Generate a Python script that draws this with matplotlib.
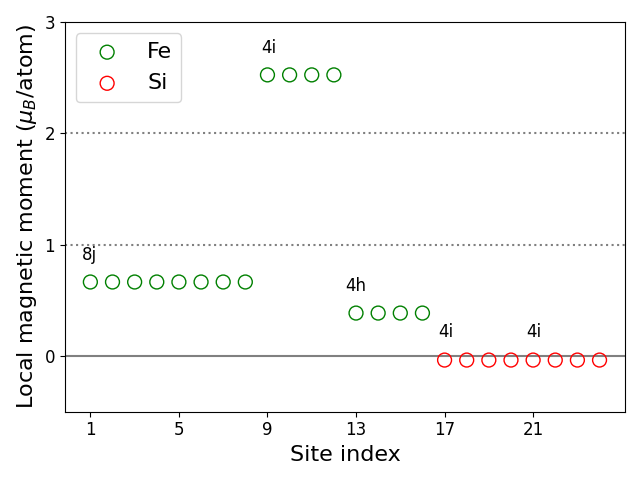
import matplotlib
matplotlib.use("Agg")
import matplotlib.pyplot as plt
import numpy as np

fe_sites = [1, 2, 3, 4, 5, 6, 7, 8, 9, 10, 11, 12, 13, 14, 15, 16]
fe_moments = [0.665]*8 + [2.525]*4 + [0.386]*4
si_sites = [17, 18, 19, 20, 21, 22, 23, 24]
si_moments = [-0.036]*8
labels = ["8j", "4i", "4h", "4i", "4i"]
label_x = [0.6, 8.7, 12.5, 16.7, 20.7]
label_y = [0.86, 2.72, 0.58, 0.17, 0.17]
xticks = [1, 5, 9, 13, 17, 21]

fig, ax = plt.subplots(figsize=(6.4, 4.8), dpi=100)
ax.axhline(0, color="gray", lw=1.5, zorder=1)
ax.axhline(1, color="gray", ls=":", lw=1.5, zorder=1)
ax.axhline(2, color="gray", ls=":", lw=1.5, zorder=1)
ax.scatter(fe_sites, fe_moments, s=100, facecolors="none", edgecolors="green", label="Fe", zorder=2)
ax.scatter(si_sites, si_moments, s=100, facecolors="none", edgecolors="red", label="Si", zorder=2)
for t, x, y in zip(labels, label_x, label_y):
    ax.text(x, y, t, fontsize=12)
ax.set_xlim(-0.15, 25.15)
ax.set_ylim(-0.5, 3)
ax.set_xticks(xticks)
ax.set_yticks([0, 1, 2, 3])
ax.tick_params(labelsize=12)
ax.set_xlabel("Site index", fontsize=16)
ax.set_ylabel(r"Local magnetic moment ($\mu_B$/atom)", fontsize=16)
ax.legend(fontsize=16, loc="upper left")
fig.tight_layout()
fig.savefig("out.png")
